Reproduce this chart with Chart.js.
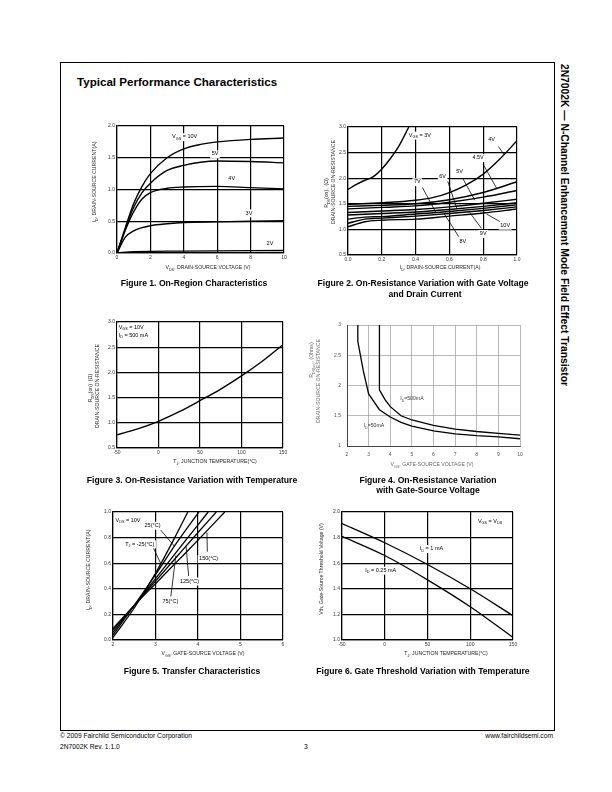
<!DOCTYPE html>
<html><head><meta charset="utf-8">
<script src="https://cdn.jsdelivr.net/npm/chart.js@4.4.1/dist/chart.umd.min.js"></script>
<style>
html,body{margin:0;padding:0;background:#fff;}
body{width:612px;height:792px;position:relative;overflow:hidden;font-family:"Liberation Sans",Arial,Helvetica,sans-serif;color:#000;}
.frame{position:absolute;left:60px;top:62px;width:493px;height:667px;border:1px solid #000;}
.t{position:absolute;white-space:nowrap;transform:translate(-50%,-50%);line-height:1;}
.l{position:absolute;white-space:nowrap;line-height:1;}
.r{transform:translate(-50%,-50%) rotate(-90deg);}
.cap{font-weight:bold;font-size:8.6px;}
.ax{font-size:5.2px;color:#222;}
.ax4{font-size:5.2px;color:#666;}
sub{font-size:70%;vertical-align:-0.35em;line-height:0;}
canvas{position:absolute;}
</style></head><body>
<div class="frame"></div>
<div class="l" style="left:77px;top:76px;font-weight:bold;font-size:11.6px;">Typical Performance Characteristics</div>
<div class="t" style="left:564px;top:225px;transform:translate(-50%,-50%) rotate(90deg);font-weight:bold;font-size:10.3px;">2N7002K — N-Channel Enhancement Mode Field Effect Transistor</div>

<canvas id="c1"></canvas><canvas id="c2"></canvas><canvas id="c3"></canvas>
<canvas id="c4"></canvas><canvas id="c5"></canvas><canvas id="c6"></canvas>

<!-- Figure 1 -->
<div class="t r ax" style="left:95px;top:182px;">I<sub>D</sub>, DRAIN-SOURCE CURRENT(A)</div>
<div class="t ax" style="left:208px;top:268px;">V<sub>DS</sub>, DRAIN-SOURCE VOLTAGE (V)</div>
<div class="t cap" style="left:194px;top:283px;">Figure 1. On-Region Characteristics</div>
<!-- Figure 2 -->
<div class="t r ax" style="left:327px;top:193px;">R<sub>DS</sub>(on), &nbsp;(Ω)</div>
<div class="t r ax" style="left:334px;top:182px;">DRAIN-SOURCE ON-RESISTANCE</div>
<div class="t ax" style="left:440px;top:268px;">I<sub>D</sub>, DRAIN-SOURCE CURRENT(A)</div>
<div class="t cap" style="left:423px;top:283px;">Figure 2. On-Resistance Variation with Gate Voltage</div>
<div class="t cap" style="left:425px;top:294px;">and Drain Current</div>
<!-- Figure 3 -->
<div class="t r ax" style="left:91px;top:388px;">R<sub>DS</sub>(on) &nbsp;(Ω)</div>
<div class="t r ax" style="left:98px;top:386px;">DRAIN-SOURCE ON-RESISTANCE</div>
<div class="t ax" style="left:215px;top:462px;">T<sub>J</sub>, JUNCTION TEMPERATURE(°C)</div>
<div class="t cap" style="left:192px;top:480px;">Figure 3. On-Resistance Variation with Temperature</div>
<!-- Figure 4 -->
<div class="t r ax4" style="left:312px;top:360px;">R<sub>DS(on)</sub>, (Ohms)</div>
<div class="t r ax4" style="left:319px;top:381px;">DRAIN-SOURCE ON-RESISTANCE</div>
<div class="t ax4" style="left:432px;top:465px;">V<sub>GS</sub>, GATE-SOURCE VOLTAGE (V)</div>
<div class="t cap" style="left:428px;top:480px;">Figure 4. On-Resistance Variation</div>
<div class="t cap" style="left:428px;top:490px;">with Gate-Source Voltage</div>
<!-- Figure 5 -->
<div class="t r ax" style="left:89px;top:570px;">I<sub>D</sub>, DRAIN-SOURCE CURRENT(A)</div>
<div class="t ax" style="left:203px;top:654px;">V<sub>GS</sub>, GATE-SOURCE VOLTAGE (V)</div>
<div class="t cap" style="left:192px;top:671px;">Figure 5. Transfer Characteristics</div>
<!-- Figure 6 -->
<div class="t r ax" style="left:322px;top:569px;">Vth, Gate-Source Threshold Voltage (V)</div>
<div class="t ax" style="left:446px;top:654px;">T<sub>J</sub>, JUNCTION TEMPERATURE(°C)</div>
<div class="t cap" style="left:423px;top:671px;">Figure 6. Gate Threshold Variation with Temperature</div>

<!-- footer -->
<div class="l" style="left:60px;top:733px;font-size:6.7px;">© 2009 Fairchild Semiconductor Corporation</div>
<div class="l" style="left:60px;top:744px;font-size:6.7px;">2N7002K Rev. 1.1.0</div>
<div class="l" style="left:304px;top:744px;font-size:6.7px;">3</div>
<div class="l" style="right:59px;top:733px;font-size:6.7px;">www.fairchildsemi.com</div>

<script>
// ---------- DATA ----------
// Figure 1: ID (A) vs VDS (V) for each VGS
const fig1Vgs10 = [[0,0],[0.5,0.4],[1,0.78],[1.5,1.05],[2,1.25],[3,1.5],[4,1.64],[5,1.71],[6,1.75],[8,1.79],[10,1.81]];
const fig1Vgs5  = [[0,0],[0.5,0.38],[1,0.72],[1.5,0.95],[2,1.1],[3,1.3],[4,1.38],[5,1.43],[6,1.45],[8,1.44],[10,1.42]];
const fig1Vgs4  = [[0,0],[0.5,0.36],[1,0.65],[1.5,0.85],[2,0.95],[3,1.02],[4,1.04],[6,1.05],[8,1.03],[10,1.01]];
const fig1Vgs3  = [[0,0],[0.5,0.25],[1,0.35],[1.5,0.4],[2,0.43],[3,0.46],[4,0.48],[6,0.49],[8,0.5],[10,0.51]];
const fig1Vgs2  = [[0,0],[1,0.02],[4,0.03],[10,0.04]];
const fig1Labels = ['V_{GS} = 10V','5V','4V','3V','2V'];
const fig1XTicks = [0,2,4,6,8,10];
const fig1YTicks = [0.0,0.5,1.0,1.5,2.0];

// Figure 2: RDS(on) (ohm) vs ID (A) for each VGS
const fig2Vgs3  = [[0,1.78],[0.05,1.88],[0.1,1.96],[0.15,2.03],[0.2,2.18],[0.25,2.38],[0.3,2.62],[0.36,3.0]];
const fig2Vgs4  = [[0,1.49],[0.2,1.52],[0.4,1.57],[0.5,1.62],[0.6,1.72],[0.7,1.87],[0.8,2.08],[0.9,2.38],[1.0,2.73]];
const fig2Vgs45 = [[0,1.45],[0.2,1.47],[0.4,1.5],[0.6,1.58],[0.8,1.72],[1.0,1.93]];
const fig2Vgs5  = [[0,1.4],[0.2,1.43],[0.4,1.46],[0.6,1.53],[0.8,1.63],[1.0,1.76]];
const fig2Vgs6  = [[0,1.33],[0.2,1.36],[0.4,1.39],[0.6,1.44],[0.8,1.51],[1.0,1.59]];
const fig2Vgs7  = [[0,1.28],[0.2,1.31],[0.4,1.34],[0.6,1.39],[0.8,1.45],[1.0,1.52]];
const fig2Vgs8  = [[0,1.2],[0.1,1.24],[0.2,1.25],[0.4,1.3],[0.6,1.35],[0.8,1.41],[1.0,1.48]];
const fig2Vgs9  = [[0,1.12],[0.1,1.2],[0.2,1.22],[0.4,1.26],[0.6,1.31],[0.8,1.37],[1.0,1.44]];
const fig2Vgs10 = [[0,1.05],[0.1,1.15],[0.2,1.18],[0.4,1.2],[0.6,1.26],[0.8,1.32],[1.0,1.4]];
const fig2Labels = ['V_{GS} = 3V','4V','4.5V','5V','6V','7V','8V','9V','10V'];

// Figure 3: RDS(on) (ohm) vs TJ (C)
const fig3Temp = [-50,-25,0,25,50,75,100,125,150];
const fig3Rds  = [0.76,0.88,1.03,1.22,1.44,1.67,1.93,2.22,2.55];
const fig3Labels = ['V_{GS} = 10V','I_{D} = 500 mA'];

// Figure 4: RDS(on) (ohm) vs VGS (V)
const fig4Id500 = [[3.5,3.0],[3.5,1.93],[3.75,1.77],[4,1.65],[4.5,1.5],[5,1.43],[6,1.34],[7,1.28],[8,1.24],[9,1.21],[10,1.18]];
const fig4Id50  = [[2.5,3.0],[2.5,2.73],[2.75,2.25],[3,1.86],[3.5,1.6],[4,1.48],[4.5,1.39],[5,1.33],[6,1.25],[7,1.2],[8,1.17],[9,1.15],[10,1.12]];
const fig4Labels = ['I_{D}=500mA','I_{D}=50mA'];

// Figure 5: ID (A) vs VGS (V) for each TJ
const fig5Tm25  = [[2,0.02],[2.5,0.25],[3,0.52],[3.5,0.83],[3.76,1.0]];
const fig5T25   = [[2,0.04],[2.5,0.27],[3,0.51],[3.5,0.76],[4.02,1.0]];
const fig5T75   = [[2,0.06],[2.5,0.27],[3,0.48],[3.5,0.69],[4,0.9],[4.24,1.0]];
const fig5T125  = [[2,0.08],[2.5,0.27],[3,0.46],[3.5,0.65],[4,0.84],[4.43,1.0]];
const fig5T150  = [[2,0.09],[2.5,0.27],[3,0.44],[3.5,0.61],[4,0.78],[4.63,1.0]];
const fig5Labels = ['V_{DS} = 10V','25(°C)','T_{J} = -25(°C)','150(°C)','125(°C)','75(°C)'];

// Figure 6: Vth (V) vs TJ (C)
const fig6Temp   = [-50,0,50,100,150];
const fig6Id1mA  = [1.91,1.76,1.59,1.40,1.19];
const fig6Id025  = [1.81,1.66,1.47,1.26,1.02];
const fig6Labels = ['I_{D} = 1 mA','I_{D} = 0.25 mA','V_{GS} = V_{DS}'];

// ---------- HELPERS ----------
const FAM = '"Liberation Sans", Arial, Helvetica, sans-serif';
function pts(a){ return a.map(p => ({x:p[0], y:p[1]})); }
function zip(xs, ys){ return xs.map((x,i) => ({x:x, y:ys[i]})); }
function richParts(s){
  const parts=[]; const re=/_\{([^}]*)\}/g; let last=0,m;
  while((m=re.exec(s))){ if(m.index>last) parts.push({t:s.slice(last,m.index),sub:false}); parts.push({t:m[1],sub:true}); last=re.lastIndex; }
  if(last<s.length) parts.push({t:s.slice(last),sub:false});
  return parts;
}
function drawRich(ctx,s,x,y,size,align,bg,color){
  const parts=richParts(s); let w=0;
  parts.forEach(p=>{ ctx.font=(p.sub?size*0.68:size)+'px '+FAM; p.w=ctx.measureText(p.t).width; w+=p.w; });
  let x0 = align==='center' ? x-w/2 : (align==='right' ? x-w : x);
  if(bg){ ctx.fillStyle='#fff'; ctx.fillRect(x0-1.5, y-size*0.65, w+3, size*1.45); }
  ctx.fillStyle=color||'#000'; ctx.textBaseline='middle'; ctx.textAlign='left';
  parts.forEach(p=>{ ctx.font=(p.sub?size*0.68:size)+'px '+FAM; ctx.fillText(p.t,x0,p.sub?y+size*0.35:y); x0+=p.w; });
}
const notesPlugin = {
  id:'notes',
  afterDatasetsDraw(chart, args, opts){
    const ctx=chart.ctx, xs=chart.scales.x, ys=chart.scales.y;
    ctx.save();
    (opts.leaders||[]).forEach(l=>{
      ctx.beginPath(); ctx.moveTo(xs.getPixelForValue(l[0]), ys.getPixelForValue(l[1]));
      ctx.lineTo(xs.getPixelForValue(l[2]), ys.getPixelForValue(l[3]));
      ctx.lineWidth=0.8; ctx.strokeStyle='#000'; ctx.stroke();
    });
    (opts.labels||[]).forEach(l=>{
      drawRich(ctx, l.text, xs.getPixelForValue(l.x), ys.getPixelForValue(l.y), opts.size||5.5, l.align||'center', l.bg!==false && opts.bg, opts.color);
    });
    ctx.restore();
  }
};
Chart.register(notesPlugin);

function line(data, w){ return {data:data, showLine:true, pointRadius:0, borderColor:'#000', borderWidth:w||1.4, fill:false, cubicInterpolationMode:'monotone'}; }

function makeChart(id, area, xs, ys, datasets, notes, style){
  style = style || {};
  const padL=24, padT=6, padR=10, padB=style.padB||12;
  const c=document.getElementById(id);
  const W=area.r-area.l+padL+padR, H=area.b-area.t+padT+padB;
  c.width=W; c.height=H; c.style.width=W+'px'; c.style.height=H+'px';
  c.style.left=(area.l-padL)+'px'; c.style.top=(area.t-padT)+'px';
  const gridCol=style.grid||'#000', gridW=style.gridW||1.2, tickCol=style.tick||'#333';
  function axis(cfg, isX){
    return {
      type:'linear', min:cfg.min, max:cfg.max,
      afterBuildTicks(s){ s.ticks = cfg.ticks.map(v=>({value:v})); },
      ticks:{ font:{size:5, family:FAM}, color:tickCol, padding:style.tickPad||2, maxRotation:0, autoSkip:false,
              callback:(v)=> cfg.fmt ? cfg.fmt(v) : String(v) },
      grid:{ color:gridCol, lineWidth:gridW, drawTicks:false },
      border:{ color:style.border||gridCol, width:style.borderW||gridW },
      afterFit(s){ if(isX) s.height=padB; else s.width=padL; }
    };
  }
  return new Chart(c, {
    type:'scatter',
    data:{datasets:datasets},
    options:{
      responsive:false, animation:false, devicePixelRatio:1,
      layout:{padding:{top:padT,right:padR,left:0,bottom:0}},
      plugins:{legend:{display:false}, tooltip:{enabled:false}, notes:notes},
      scales:{x:axis(xs,true), y:axis(ys,false)}
    }
  });
}
const f1 = v=>v.toFixed(1);

// Figure 1
makeChart('c1', {l:117,t:126,r:284,b:253},
  {min:0,max:10,ticks:fig1XTicks},
  {min:0,max:2,ticks:fig1YTicks,fmt:f1},
  [line(pts(fig1Vgs10)),line(pts(fig1Vgs5)),line(pts(fig1Vgs4)),line(pts(fig1Vgs3)),line(pts(fig1Vgs2))],
  {bg:true, size:5.5, labels:[
    {x:3.3,y:1.83,text:fig1Labels[0],align:'left'},
    {x:5.87,y:1.56,text:fig1Labels[1]},
    {x:6.87,y:1.17,text:fig1Labels[2]},
    {x:7.9,y:0.63,text:fig1Labels[3]},
    {x:9.16,y:0.15,text:fig1Labels[4]}
  ]});

// Figure 2
makeChart('c2', {l:348,t:127,r:517,b:255},
  {min:0,max:1,ticks:[0,0.2,0.4,0.6,0.8,1.0],fmt:f1},
  {min:0.5,max:3,ticks:[0.5,1.0,1.5,2.0,2.5,3.0],fmt:f1},
  [fig2Vgs3,fig2Vgs4,fig2Vgs45,fig2Vgs5,fig2Vgs6,fig2Vgs7,fig2Vgs8,fig2Vgs9,fig2Vgs10].map(a=>line(pts(a))),
  {bg:true, size:5.5,
   leaders:[[0.89,2.62,0.925,2.45],[0.80,2.27,0.88,1.80],[0.68,1.99,0.75,1.57],[0.59,1.94,0.645,1.40],
            [0.44,1.82,0.52,1.33],[0.655,0.86,0.57,1.30],[0.79,1.02,0.72,1.33],[0.90,1.15,0.82,1.30]],
   labels:[
    {x:0.36,y:2.84,text:fig2Labels[0],align:'left'},
    {x:0.85,y:2.76,text:fig2Labels[1]},
    {x:0.77,y:2.40,text:fig2Labels[2]},
    {x:0.66,y:2.14,text:fig2Labels[3]},
    {x:0.56,y:2.03,text:fig2Labels[4]},
    {x:0.41,y:1.93,text:fig2Labels[5]},
    {x:0.68,y:0.77,text:fig2Labels[6]},
    {x:0.80,y:0.92,text:fig2Labels[7]},
    {x:0.93,y:1.08,text:fig2Labels[8]}
  ]});

// Figure 3
makeChart('c3', {l:117,t:322,r:283,b:448},
  {min:-50,max:150,ticks:[-50,0,50,100,150]},
  {min:0.5,max:3,ticks:[0.5,1.0,1.5,2.0,2.5,3.0],fmt:f1},
  [line(zip(fig3Temp,fig3Rds))],
  {bg:true, size:5.5, labels:[
    {x:-48,y:2.90,text:fig3Labels[0],align:'left'},
    {x:-48,y:2.74,text:fig3Labels[1],align:'left'}
  ]});

// Figure 4
makeChart('c4', {l:347,t:322,r:520,b:446},
  {min:2,max:10,ticks:[2,3,4,5,6,7,8,9,10]},
  {min:1,max:3,ticks:[1,1.5,2,2.5,3]},
  [Object.assign(line(pts(fig4Id500),1.3),{cubicInterpolationMode:'default',tension:0}),
   Object.assign(line(pts(fig4Id50),1.3),{cubicInterpolationMode:'default',tension:0})],
  {bg:false, size:5.2, color:'#333', labels:[
    {x:4.46,y:1.78,text:fig4Labels[0],align:'left'},
    {x:2.77,y:1.33,text:fig4Labels[1],align:'left'}
  ]},
  {grid:'#999', gridW:0.7, border:'#444', borderW:1, tick:'#555', tickPad:6, padB:17});

// Figure 5
makeChart('c5', {l:113,t:512,r:283,b:640},
  {min:2,max:6,ticks:[2,3,4,5,6]},
  {min:0,max:1,ticks:[0,0.2,0.4,0.6,0.8,1.0],fmt:f1},
  [fig5Tm25,fig5T25,fig5T75,fig5T125,fig5T150].map(a=>line(pts(a),1.3)),
  {bg:true, size:5.5,
   leaders:[[3.12,0.86,3.45,0.73],[2.95,0.72,3.12,0.6],[4.22,0.69,4.21,0.84],[3.78,0.50,3.72,0.73],[3.36,0.34,3.48,0.66]],
   labels:[
    {x:2.06,y:0.935,text:fig5Labels[0],align:'left'},
    {x:2.93,y:0.896,text:fig5Labels[1]},
    {x:2.63,y:0.75,text:fig5Labels[2]},
    {x:4.25,y:0.636,text:fig5Labels[3]},
    {x:3.8,y:0.46,text:fig5Labels[4]},
    {x:3.35,y:0.30,text:fig5Labels[5]}
  ]});

// Figure 6
makeChart('c6', {l:342,t:512,r:513,b:640},
  {min:-50,max:150,ticks:[-50,0,50,100,150]},
  {min:1,max:2,ticks:[1.0,1.2,1.4,1.6,1.8,2.0],fmt:f1},
  [line(zip(fig6Temp,fig6Id1mA),1.3), line(zip(fig6Temp,fig6Id025),1.3)],
  {bg:true, size:5.5, labels:[
    {x:41,y:1.714,text:fig6Labels[0],align:'left'},
    {x:-22.8,y:1.545,text:fig6Labels[1],align:'left'},
    {x:109,y:1.927,text:fig6Labels[2],align:'left'}
  ]});
</script>
</body></html>
